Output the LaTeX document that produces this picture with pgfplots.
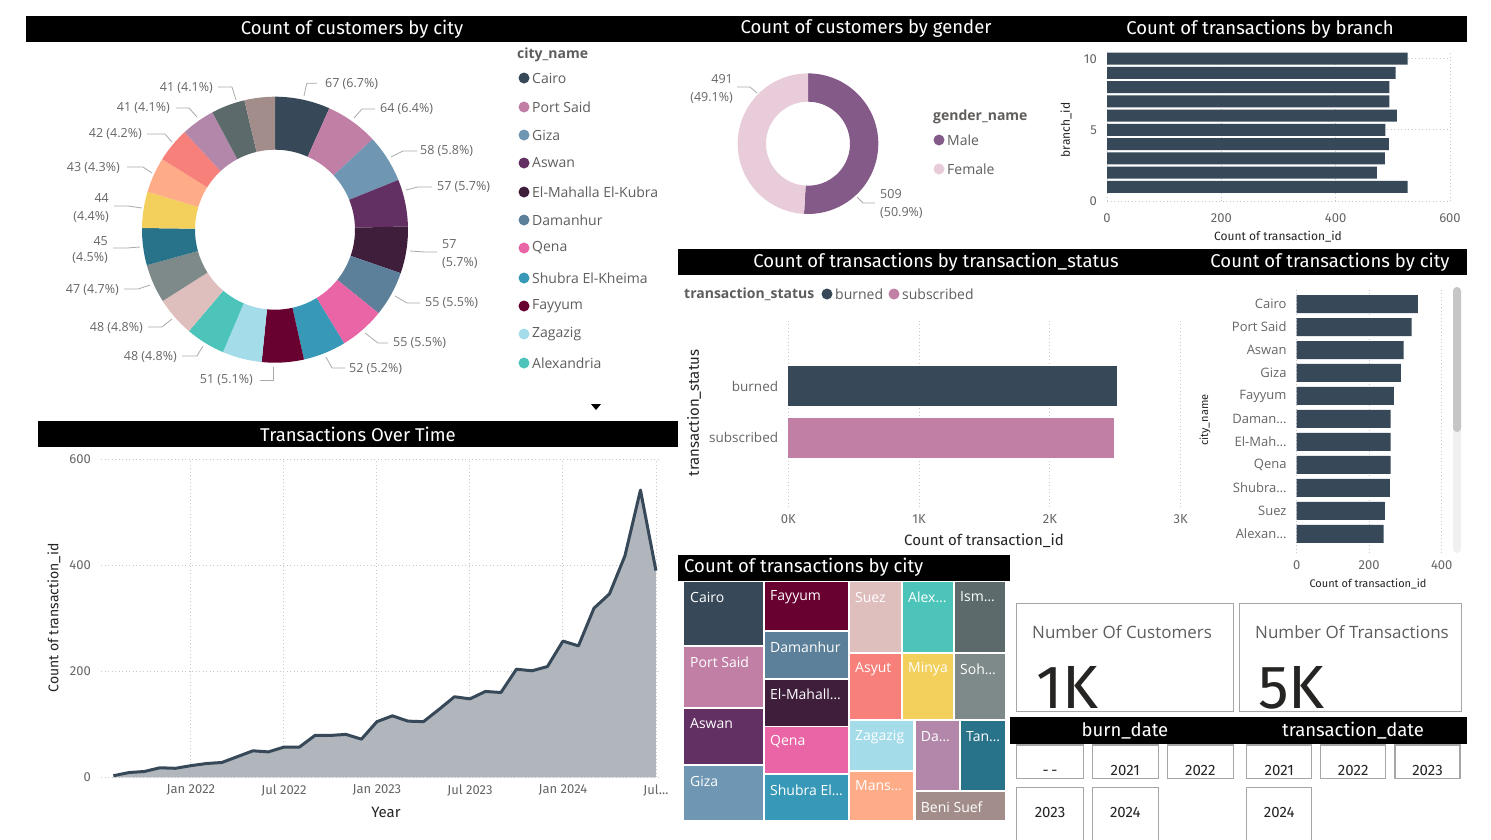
\documentclass[border=0pt]{standalone}
\usepackage{pgfplots}
\pgfplotsset{compat=1.18}
\usepackage{fontspec}
\setmainfont{Open Sans}
\newfontfamily\din{Fira Sans}
\newcommand\fs[1]{\fontsize{#1}{#1}\selectfont}
\definecolor{cCairo}{HTML}{374959}
\definecolor{cPort}{HTML}{C27FA6}
\definecolor{cGiza}{HTML}{6F97B4}
\definecolor{cAswan}{HTML}{623063}
\definecolor{cMahalla}{HTML}{3F1E3C}
\definecolor{cDaman}{HTML}{5C7F9A}
\definecolor{cQena}{HTML}{EA65A5}
\definecolor{cShubra}{HTML}{3799B7}
\definecolor{cFayyum}{HTML}{680030}
\definecolor{cZagazig}{HTML}{A4DCEA}
\definecolor{cAlex}{HTML}{4CC4B9}
\definecolor{cSuez}{HTML}{DFBEBE}
\definecolor{cSohag}{HTML}{7E898A}
\definecolor{cTanta}{HTML}{28728A}
\definecolor{cMinya}{HTML}{F3CF5B}
\definecolor{cMans}{HTML}{FEAB88}
\definecolor{cAsyut}{HTML}{F7807A}
\definecolor{cDamietta}{HTML}{B387AA}
\definecolor{cIsm}{HTML}{5C6A6B}
\definecolor{cBeni}{HTML}{A28D8A}
\definecolor{cMale}{HTML}{845B88}
\definecolor{cFemale}{HTML}{E8CCDA}
\definecolor{cArea}{HTML}{B0B6BC}
\definecolor{lab}{HTML}{666666}
\definecolor{leg}{HTML}{605E5C}
\definecolor{lead}{HTML}{AAAAAA}
\definecolor{gridc}{HTML}{C8C8C8}
\definecolor{dark}{HTML}{252423}
\definecolor{cardb}{HTML}{A6A6A6}

\pgfplotsset{pbi/.style={scale only axis, anchor=south west, enlargelimits=false,
  axis line style={draw=none}, tick style={draw=none}, clip=false,
  major grid style={gridc, line width=0.9pt, dash pattern=on 0.9pt off 2.6pt},
  /pgf/number format/assume math mode=true,
  ticklabel style={text=lab, inner sep=0pt}}}

\newcommand\slice[5]{\edef\tmp{\noexpand\fill[#5] (axis cs:{#4*cos(#1)},{#4*sin(#1)}) arc[start angle=#1,end angle=#2,radius=#4pt] -- (axis cs:{#3*cos(#2)},{#3*sin(#2)}) arc[start angle=#2,end angle=#1,radius=#3pt] -- cycle;}\tmp}

\begin{document}
\begin{tikzpicture}
\path[use as bounding box] (0pt,0pt) rectangle (1491pt,-839pt);
\fill[white] (0pt,0pt) rectangle (1491pt,-839pt);

% ---------- donut: customers by city ----------
\begin{axis}[hide axis, scale only axis, anchor=south west, at={(142pt,-362.7pt)},
  width=266pt, height=266pt, xmin=-133, xmax=133, ymin=-133, ymax=133, enlargelimits=false]
\gdef\cum{0}
\foreach \v/\c in {67/cCairo,64/cPort,58/cGiza,57/cAswan,57/cMahalla,55/cDaman,55/cQena,52/cShubra,51/cFayyum,48/cZagazig,48/cAlex,48/cSuez,47/cSohag,45/cTanta,44/cMinya,43/cMans,42/cAsyut,41/cDamietta,41/cIsm,37/cBeni}{
  \pgfmathsetmacro\a{90-0.36*\cum}
  \pgfmathsetmacro\b{90-0.36*(\cum+\v)}
  \slice{\a}{\b}{80}{133}{\c}
  \pgfmathsetmacro\n{\cum+\v}\xdef\cum{\n}
}
\end{axis}

% ---------- donut: customers by gender ----------
\begin{axis}[hide axis, scale only axis, anchor=south west, at={(737.7pt,-214pt)},
  width=140.6pt, height=140.6pt, xmin=-70.3, xmax=70.3, ymin=-70.3, ymax=70.3, enlargelimits=false]
\gdef\cum{0}
\foreach \v/\c in {509/cMale,491/cFemale}{
  \pgfmathsetmacro\a{90-0.36*\cum}
  \pgfmathsetmacro\b{90-0.36*(\cum+\v)}
  \slice{\a}{\b}{42}{70.3}{\c}
  \pgfmathsetmacro\n{\cum+\v}\xdef\cum{\n}
}
\end{axis}

% ---------- transactions by branch ----------
\begin{axis}[pbi, at={(1107pt,-201pt)}, width=343pt, height=148pt,
  xmin=0, xmax=600, ymin=0, ymax=10.4, xtick={0,200,400,600}, ytick={0,5,10},
  xmajorgrids, ymajorgrids,
  xticklabel style={font=\din\fs{13}, anchor=center, yshift=-17pt},
  yticklabel style={font=\din\fs{13}, anchor=east, xshift=-10pt}]
\addplot[xbar, bar width=12pt, bar shift=0pt, fill=cCairo, draw=none] coordinates {(526,1) (472,2) (486,3) (493,4) (487,5) (507,6) (494,7) (494,8) (505,9) (526,10)};
\end{axis}

% ---------- transactions by status ----------
\begin{axis}[pbi, at={(788.3pt,-507pt)}, width=392.4pt, height=187pt,
  xmin=0, xmax=3000, ymin=-1.33, ymax=2.27, xtick={0,1000,2000,3000}, xticklabels={0K,1K,2K,3K},
  ytick={0,1}, yticklabels={subscribed,burned}, xmajorgrids,
  xticklabel style={font=\din\fs{13}, anchor=center, yshift=-12pt},
  yticklabel style={font=\fs{13.5}, anchor=east, xshift=-10pt}]
\addplot[xbar, bar width=40pt, bar shift=0pt, fill=cCairo, draw=none] coordinates {(2512,1)};
\addplot[xbar, bar width=40pt, bar shift=0pt, fill=cPort, draw=none] coordinates {(2488,0)};
\end{axis}

% ---------- transactions by city (bars) ----------
\begin{axis}[pbi, at={(1296.7pt,-553pt)}, width=145pt, height=266pt,
  xmin=0, xmax=400, ymin=-0.83, ymax=10.74, xtick={0,200,400}, ytick={0,...,10},
  yticklabels={Alexan…,Suez,Shubra…,Qena,El-Mah…,Daman…,Fayyum,Giza,Aswan,Port Said,Cairo},
  xmajorgrids,
  xticklabel style={font=\din\fs{13}, anchor=center, yshift=-12pt},
  yticklabel style={font=\fs{13}, anchor=east, xshift=-10pt}]
\addplot[xbar, bar width=18pt, bar shift=0pt, fill=cCairo, draw=none] coordinates {(240,0) (243,1) (257,2) (259,3) (259,4) (259,5) (268,6) (287,7) (295,8) (317,9) (334,10)};
\end{axis}

% ---------- transactions over time ----------
\begin{axis}[pbi, at={(101pt,-777.3pt)}, width=559.6pt, height=318pt,
  xmin=-5.8, xmax=30.3, ymin=0, ymax=600, xtick={0,6,12,18,24,30},
  xticklabels={Jan 2022,Jul 2022,Jan 2023,Jul 2023,Jan 2024,Jul…}, ytick={0,200,400,600},
  xmajorgrids, ymajorgrids,
  xticklabel style={font=\din\fs{13}, anchor=center, yshift=-13pt},
  yticklabel style={font=\din\fs{13}, anchor=east, xshift=-10pt}]
\addplot[fill=cArea, draw=none] coordinates {(-5,3) (-4,9) (-3,11) (-2,18) (-1,17) (0,22) (1,26) (2,28) (3,39) (4,50) (5,48) (6,57) (7,57) (8,79) (9,79) (10,81) (11,72) (12,105) (13,116) (14,106) (15,105) (16,128) (17,152) (18,148) (19,162) (20,160) (21,204) (22,201) (23,209) (24,257) (25,248) (26,319) (27,346) (28,418) (29,542) (30,390)} \closedcycle;
\addplot[cCairo, line width=3pt, line join=round] coordinates {(-5,3) (-4,9) (-3,11) (-2,18) (-1,17) (0,22) (1,26) (2,28) (3,39) (4,50) (5,48) (6,57) (7,57) (8,79) (9,79) (10,81) (11,72) (12,105) (13,116) (14,106) (15,105) (16,128) (17,152) (18,148) (19,162) (20,160) (21,204) (22,201) (23,209) (24,257) (25,248) (26,319) (27,346) (28,418) (29,542) (30,390)};
\end{axis}

% ---------- treemap ----------
\begin{axis}[hide axis, scale only axis, anchor=south west, at={(684pt,-820pt)},
  width=321pt, height=238pt, xmin=684, xmax=1005, ymin=582, ymax=820, y dir=reverse, enlargelimits=false]
\addplot[fill=cCairo, draw=none] coordinates {(684,582) (763,582) (763,645) (684,645)};
\addplot[fill=cPort, draw=none] coordinates {(684,647) (763,647) (763,707) (684,707)};
\addplot[fill=cAswan, draw=none] coordinates {(684,708.5) (763,708.5) (763,764) (684,764)};
\addplot[fill=cGiza, draw=none] coordinates {(684,766) (763,766) (763,820) (684,820)};
\addplot[fill=cFayyum, draw=none] coordinates {(765,582) (848,582) (848,630) (765,630)};
\addplot[fill=cDaman, draw=none] coordinates {(765,632) (848,632) (848,678) (765,678)};
\addplot[fill=cMahalla, draw=none] coordinates {(765,679.5) (848,679.5) (848,725.5) (765,725.5)};
\addplot[fill=cQena, draw=none] coordinates {(765,727) (848,727) (848,773) (765,773)};
\addplot[fill=cShubra, draw=none] coordinates {(765,774.5) (848,774.5) (848,820) (765,820)};
\addplot[fill=cSuez, draw=none] coordinates {(850,582) (901,582) (901,652) (850,652)};
\addplot[fill=cAlex, draw=none] coordinates {(903,582) (953,582) (953,652) (903,652)};
\addplot[fill=cIsm, draw=none] coordinates {(955,582) (1005,582) (1005,652) (955,652)};
\addplot[fill=cAsyut, draw=none] coordinates {(850,654) (901,654) (901,719) (850,719)};
\addplot[fill=cMinya, draw=none] coordinates {(903,654) (953,654) (953,719) (903,719)};
\addplot[fill=cSohag, draw=none] coordinates {(955,654) (1005,654) (1005,719) (955,719)};
\addplot[fill=cZagazig, draw=none] coordinates {(850,721) (913,721) (913,770) (850,770)};
\addplot[fill=cMans, draw=none] coordinates {(850,772) (913,772) (913,820) (850,820)};
\addplot[fill=cDamietta, draw=none] coordinates {(916,721) (959,721) (959,790) (916,790)};
\addplot[fill=cTanta, draw=none] coordinates {(961,721) (1005,721) (1005,790) (961,790)};
\addplot[fill=cBeni, draw=none] coordinates {(916,792) (1005,792) (1005,820) (916,820)};
\end{axis}

\begin{scope}[x=1pt,y=-1pt]
% title bars
\fill[black] (26,16) rectangle (1467,42);
\fill[black] (678,249) rectangle (1467,275);
\fill[black] (38,421) rectangle (678,447);
\fill[black] (678,555) rectangle (1010,581);
\fill[black] (1010,717.3) rectangle (1467,744);
\begin{scope}[every node/.style={text=white, font=\din\fs{18.5}, inner sep=0pt}]
\node at (352,29) {Count of customers by city};
\node at (866,29) {Count of customers by gender};
\node at (1260,29) {Count of transactions by branch};
\node at (936,262) {Count of transactions by transaction\_status};
\node at (1330,262) {Count of transactions by city};
\node at (358,434) {Transactions Over Time};
\node[anchor=west] at (684,567) {Count of transactions by city};
\node at (1125,730.5) {burn\_date};
\node at (1353,730.5) {transaction\_date};
\end{scope}

% donut labels
\begin{scope}[lead, line width=0.8pt]
\draw (304,96)--(306.7,83.3)--(317,83.3);
\draw (354,118)--(362,109)--(375,109);
\draw (391,157)--(403,151)--(417,151);
\draw (406,190)--(418,187)--(432,187);
\draw (410,251)--(425,252)--(437,252);
\draw (395,296)--(407,303)--(420,303);
\draw (365,333)--(378,343)--(388,343);
\draw (326,357)--(332,368)--(345,368);
\draw (273,367)--(273,380)--(260,380);
\draw (203,346)--(197,356)--(182,356);
\draw (172,319)--(162,327)--(148,327);
\draw (150,285)--(138,289)--(124,289);
\draw (140,247)--(127,248)--(113,248);
\draw (142,208)--(128,206)--(114,206);
\draw (152,173)--(143,167)--(127,167);
\draw (172,142)--(165,134)--(147,134);
\draw (197,117)--(189,108)--(176,108);
\draw (236,100)--(232,87)--(218,87);
\draw (757,93)--(750,87)--(737,87);
\draw (857,197)--(863,203)--(875,203);
\end{scope}
\begin{scope}[every node/.style={text=lab, font=\fs{12.5}, inner sep=0pt}]
\node[anchor=west] at (325,84) {67 (6.7\%)};
\node[anchor=west] at (380,109) {64 (6.4\%)};
\node[anchor=west] at (420,151) {58 (5.8\%)};
\node[anchor=west] at (437,187) {57 (5.7\%)};
\node[anchor=west] at (442,244) {57};
\node[anchor=west] at (442,263) {(5.7\%)};
\node[anchor=west] at (425,303) {55 (5.5\%)};
\node[anchor=west] at (393,343) {55 (5.5\%)};
\node[anchor=west] at (349,369) {52 (5.2\%)};
\node[anchor=east] at (253,380) {51 (5.1\%)};
\node[anchor=east] at (177,357) {48 (4.8\%)};
\node[anchor=east] at (143,328) {48 (4.8\%)};
\node[anchor=east] at (119,290) {47 (4.7\%)};
\node[anchor=east] at (108,241) {45};
\node[anchor=east] at (108,258) {(4.5\%)};
\node[anchor=east] at (109,198) {44};
\node[anchor=east] at (109,217) {(4.4\%)};
\node[anchor=east] at (120,168) {43 (4.3\%)};
\node[anchor=east] at (142,134) {42 (4.2\%)};
\node[anchor=east] at (170,108) {41 (4.1\%)};
\node[anchor=east] at (213,88) {41 (4.1\%)};
\node[anchor=east] at (733,79) {491};
\node[anchor=east] at (733,98) {(49.1\%)};
\node[anchor=west] at (880,194) {509};
\node[anchor=west] at (880,213) {(50.9\%)};
\end{scope}

% legends
\begin{scope}[every node/.style={text=leg, font=\fs{14}, inner sep=0pt, anchor=west}]
\node[font=\fs{14}\bfseries] at (517,55) {city\_name};
\foreach \y/\c/\t in {78/cCairo/Cairo,107/cPort/Port Said,135/cGiza/Giza,163/cAswan/Aswan,192/cMahalla/El-Mahalla El-Kubra,220/cDaman/Damanhur,248/cQena/Qena,278/cShubra/Shubra El-Kheima,306/cFayyum/Fayyum,334/cZagazig/Zagazig,363/cAlex/Alexandria}{
  \fill[\c] (524,\y) circle (5.5);
  \node at (532,\y) {\t};
}
\fill[black] (591,404) -- (601,404) -- (596,410) -- cycle;
\node[font=\fs{14}\bfseries] at (933,117) {gender\_name};
\fill[cMale] (939,140) circle (5.5); \node at (947,140) {Male};
\fill[cFemale] (939,169) circle (5.5); \node at (947,169) {Female};
\node[font=\fs{14}\bfseries] at (684,294) {transaction\_status};
\fill[cCairo] (827,294) circle (5.5); \node at (835,294) {burned};
\fill[cPort] (894,294) circle (5.5); \node at (902,294) {subscribed};
\end{scope}

% axis titles
\begin{scope}[every node/.style={text=dark, inner sep=0pt}]
\node[font=\din\fs{12}] at (1278,237) {Count of transaction\_id};
\node[font=\din\fs{12}, rotate=90] at (1066,130) {branch\_id};
\node[font=\din\fs{15}] at (984,541) {Count of transaction\_id};
\node[font=\din\fs{15}, rotate=90] at (694,413) {transaction\_status};
\node[font=\din\fs{11}] at (1368,584) {Count of transaction\_id};
\node[font=\din\fs{11}, rotate=90] at (1205,420) {city\_name};
\node[font=\din\fs{14}, rotate=90] at (54,618) {Count of transaction\_id};
\node[font=\din\fs{15}] at (386,812) {Year};
\end{scope}

% scrollbar
\fill[gray!12, rounded corners=4pt] (1453,287) rectangle (1461,553);
\fill[gray!45, rounded corners=4pt] (1453,287) rectangle (1461,432);

% treemap labels
\begin{scope}[every node/.style={text=white, font=\fs{14}, inner sep=0pt, anchor=west}]
\node at (690,597) {Cairo};
\node at (690,662) {Port Said};
\node at (690,724) {Aswan};
\node at (690,781) {Giza};
\node at (770,597) {Fayyum};
\node at (770,647) {Damanhur};
\node at (770,694) {El-Mahall…};
\node at (770,742) {Qena};
\node at (770,790) {Shubra El…};
\node at (855,597) {Suez};
\node at (908,597) {Alex…};
\node at (960,597) {Ism…};
\node at (855,669) {Asyut};
\node at (908,669) {Minya};
\node at (960,669) {Soh…};
\node at (855,737) {Zagazig};
\node at (855,786) {Mans…};
\node at (920.7,737) {Da…};
\node at (966,737) {Tan…};
\node at (920.7,807) {Beni Suef};
\end{scope}

% cards
\draw[cardb, line width=1.5pt] (1016.7,603.3) rectangle (1233.3,711.7);
\draw[cardb, line width=1.5pt] (1239.3,603.3) rectangle (1461.7,711.7);
\node[text=leg, font=\fs{17}, anchor=west, inner sep=0pt] at (1032,632) {Number Of Customers};
\node[text=leg, font=\fs{17}, anchor=west, inner sep=0pt] at (1255,632) {Number Of Transactions};
\node[text=dark, font=\din\fs{61}, anchor=base west, inner sep=0pt] at (1036,708) {1K};
\node[text=dark, font=\din\fs{61}, anchor=base west, inner sep=0pt] at (1258,708) {5K};

% slicer tiles
\begin{scope}[every node/.style={text=dark, font=\din\fs{15}, inner sep=0pt, anchor=base}]
\foreach \xa/\xb/\t in {1016.7/1083.3/{-\,-},1092.3/1158.3/2021,1167.3/1233.3/2022,1246.7/1311.7/2021,1320.7/1385.7/2022,1395/1460/2023}{
  \draw[cardb, line width=1.5pt] (\xa,745) rectangle (\xb,778.3);
  \node at ({(\xa+\xb)/2},775.5) {\t};
}
\foreach \xa/\xb/\t in {1016.7/1083.3/2023,1092.3/1158.3/2024,1246.7/1311.7/2024}{
  \draw[cardb, line width=1.5pt] (\xa,787.3) rectangle (\xb,850);
  \node at ({(\xa+\xb)/2},817.5) {\t};
}
\end{scope}
\end{scope}
\end{tikzpicture}
\end{document}
